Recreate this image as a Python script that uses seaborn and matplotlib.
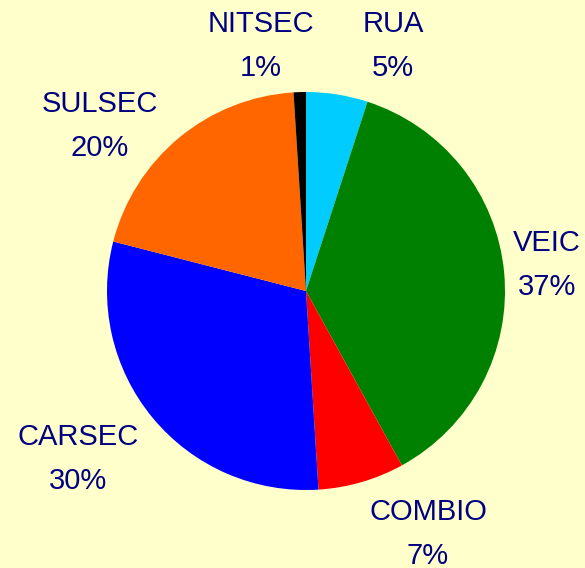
import matplotlib
matplotlib.use("Agg")
import matplotlib.pyplot as plt
import seaborn as sns

categories = ["RUA", "VEIC", "COMBIO", "CARSEC", "SULSEC", "NITSEC"]
values = [5, 37, 7, 30, 20, 1]
colors = ["#00CCFF", "#008000", "#FF0000", "#0000FF", "#FF6600", "#000000"]

# label centres (pixel offsets from pie centre, x right / y up) - layout only
label_offsets = {
    "RUA": (87, 245),
    "VEIC": (241, 26),
    "COMBIO": (122, -243),
    "CARSEC": (-228, -168),
    "SULSEC": (-206, 165),
    "NITSEC": (-45, 245),
}

sns.set_style("white")
plt.rcParams["font.family"] = ["Liberation Sans", "DejaVu Sans"]

W, H = 585, 568
fig = plt.figure(figsize=(W / 100, H / 100), dpi=100, facecolor="#FFFFCC")
ax = fig.add_axes([0, 0, 1, 1])
ax.set_facecolor("#FFFFCC")

cx, cy, r = 306, H - 291, 199
ax.pie(values, colors=colors, startangle=90, counterclock=False,
       radius=r, center=(cx, cy), wedgeprops=dict(linewidth=0))
ax.set_xlim(0, W)
ax.set_ylim(0, H)
ax.set_aspect("equal")
ax.axis("off")

txtcol = "#000080"
for cat, v in zip(categories, values):
    dx, dy = label_offsets[cat]
    x, y = cx + dx, cy + dy
    ax.text(x, y + 22, cat, ha="center", va="center", fontsize=21, color=txtcol)
    ax.text(x, y - 22, f"{v}%", ha="center", va="center", fontsize=21, color=txtcol)

fig.savefig("out.png", dpi=100, facecolor=fig.get_facecolor())
